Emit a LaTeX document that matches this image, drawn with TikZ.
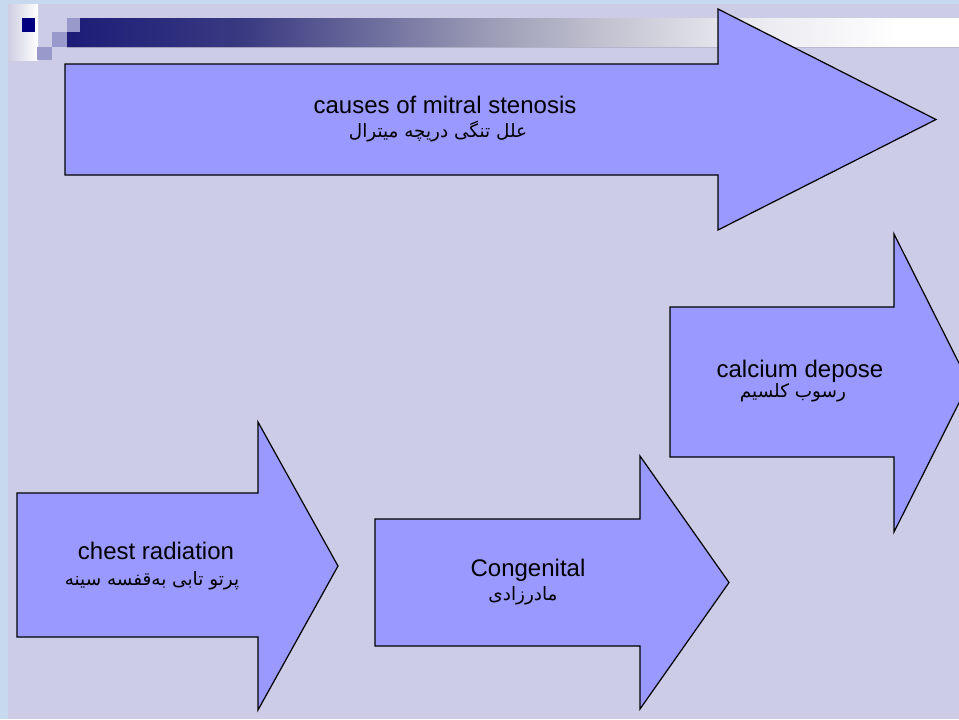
\documentclass[tikz,border=0pt]{standalone}
\usepackage{fontspec}
\setmainfont{Liberation Sans}
\newfontfamily\arabicfont[Script=Arabic]{DejaVu Sans}
\TeXXeTstate=1

\definecolor{frameblue}{RGB}{199,217,239}
\definecolor{slidebg}{RGB}{204,204,230}
\definecolor{arrowfill}{RGB}{153,153,255}
\definecolor{pixnavy}{RGB}{0,0,128}
\definecolor{pixlilac}{RGB}{153,153,204}
\definecolor{stripgrey}{RGB}{206,206,226}
\definecolor{barA}{RGB}{28,28,120}
\definecolor{barB}{RGB}{58,58,130}
\definecolor{barC}{RGB}{156,156,182}
\definecolor{barD}{RGB}{196,196,210}
\definecolor{barE}{RGB}{228,228,236}

% header bar: navy fading to white along x
\pgfdeclarehorizontalshading{barshade}{100bp}{%
  color(0bp)=(barA); color(25bp)=(barA); color(35bp)=(barB);
  color(48.7bp)=(barC); color(55.5bp)=(barD); color(61.5bp)=(barE);
  color(71.7bp)=(white); color(100bp)=(white)}

\tikzset{
  blockarrow/.style={fill=arrowfill, draw=black, line width=0.9pt, line join=miter},
  entext/.style={anchor=base, inner sep=0pt, font=\fontsize{18}{20}\selectfont, text=black},
  fatext/.style={anchor=base, inner sep=0pt, font=\arabicfont\fontsize{13.8}{15}\selectfont, text=black},
}

\begin{document}
\begin{tikzpicture}[x=0.75pt, y=-0.75pt]
  \useasboundingbox (0,0) rectangle (959,719);
  \clip (0,0) rectangle (959,719);

  % slide frame and background
  \fill[frameblue] (0,0) rectangle (959,719);
  \fill[slidebg] (8,4) rectangle (959,719);

  % pixel header decoration
  \shade[left color=stripgrey, right color=white] (8,4) rectangle (38,60);
  \fill[pixnavy] (22,18) rectangle (35,32);
  \fill[pixlilac] (67,18) rectangle (80,32);
  \fill[pixlilac] (52,32) rectangle (67,47);
  \fill[pixlilac] (37,47) rectangle (52,60);
  \fill[shading=barshade] (80,18) -- (959,18) -- (959,47) -- (67,47) -- (67,32) -- (80,32) -- cycle;

  % block arrows
  \filldraw[blockarrow] (65,64) -- (718,64) -- (718,9) -- (936,119.5) -- (718,230) -- (718,175) -- (65,175) -- cycle;
  \filldraw[blockarrow] (670,307) -- (894,307) -- (894,234) -- (969,383) -- (894,532) -- (894,457) -- (670,457) -- cycle;
  \filldraw[blockarrow] (375,519) -- (640,519) -- (640,456) -- (729,582.5) -- (640,709) -- (640,646) -- (375,646) -- cycle;
  \filldraw[blockarrow] (17,493) -- (258,493) -- (258,422) -- (338,566) -- (258,710) -- (258,637) -- (17,637) -- cycle;

  % labels
  \node[entext] (causesEn) at (445,113) {causes of mitral stenosis};
  \node[fatext] (causesFa) at (438,137) {\beginR علل تنگی دریچه میترال\endR};

  \node[entext] (calciumEn) at (800,377) {calcium depose};
  \node[fatext] (calciumFa) at (793,397) {\beginR رسوب کلسیم\endR};

  \node[entext] (chestEn) at (156,559) {chest radiation};
  \node[fatext] (chestFa) at (152,585) {\beginR پرتو تابی به‌قفسه سینه\endR};

  \node[entext] (congEn) at (528,576) {Congenital};
  \node[fatext] (congFa) at (523,600) {\beginR مادرزادی\endR};
\end{tikzpicture}
\end{document}
